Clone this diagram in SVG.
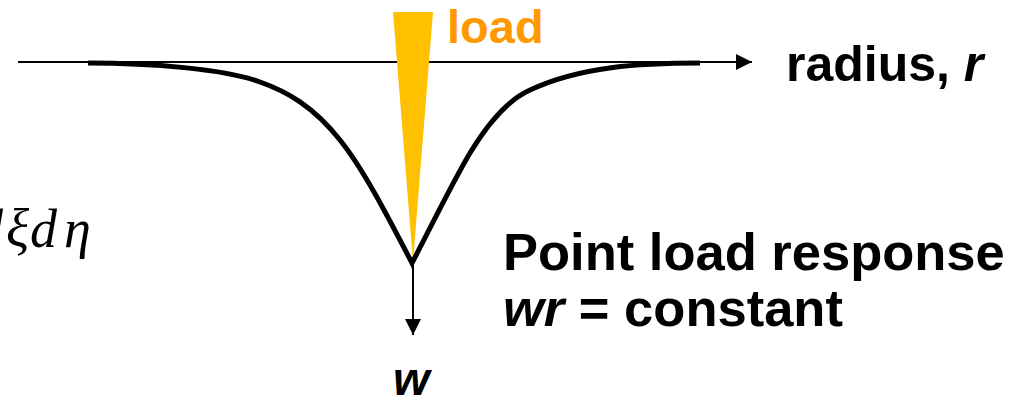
<svg xmlns="http://www.w3.org/2000/svg" width="1032" height="402" viewBox="0 0 1032 402">
<style>
.lbl{font-family:"Liberation Sans",Arial,sans-serif;font-weight:bold;fill:#000}
.math{font-family:"Liberation Serif","Times New Roman",serif;font-style:italic;fill:#000}
.ax{stroke:#000;stroke-width:2;fill:none}
</style>
<defs>
<marker id="ah" viewBox="0 0 10 10" refX="10" refY="5" markerWidth="16" markerHeight="16" markerUnits="userSpaceOnUse" orient="auto">
<path d="M0,0 L10,5 L0,10 Z" fill="#000"/>
</marker>
</defs>
<g id="connectors">
<line class="ax" x1="18" y1="62" x2="752" y2="62" marker-end="url(#ah)"/>
<line class="ax" x1="413" y1="263" x2="413" y2="335" marker-end="url(#ah)"/>
</g>
<g id="load">
<polygon points="393,12 433,12 413,262" fill="#FFC000"/>
<text class="lbl" x="447" y="43" font-size="47" style="fill:#FF9900">load</text>
</g>
<g id="curve">
<path d="M88,63 C150,63 225,69 260,82 C287,91.5 313,106 340,140 C364,170 388,217 412,263 C431,227 451,185 470,153 C490,120 510,99 530,90 C580,66.5 640,63 700,63" fill="none" stroke="#000" stroke-width="5" stroke-linejoin="miter"/>
</g>
<g id="radius-label">
<text class="lbl" x="786" y="81" font-size="50">radius, <tspan font-style="italic">r</tspan></text>
</g>
<g id="w-label">
<text class="lbl" x="393" y="395" font-size="47" font-style="italic">w</text>
</g>
<g id="response-label">
<text class="lbl" x="503" y="270" font-size="52.5">Point load response</text>
<text class="lbl" x="503" y="326" font-size="52.5"><tspan font-style="italic">wr</tspan> = constant</text>
</g>
<g id="formula-fragment">
<text class="math" font-size="54" y="247"><tspan x="-24">d</tspan><tspan x="6">ξ</tspan><tspan x="30">d</tspan><tspan x="64">η</tspan></text>
</g>
</svg>
